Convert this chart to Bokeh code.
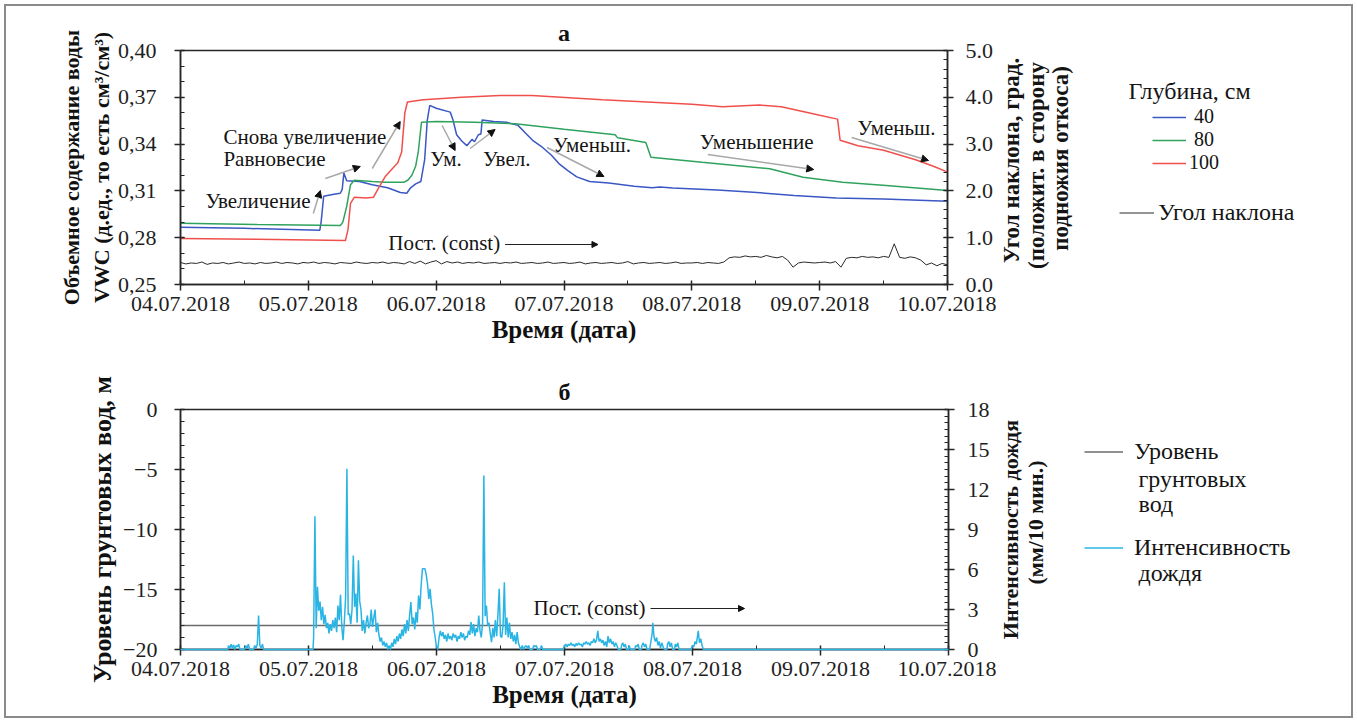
from math import pi
from bokeh.plotting import figure
from bokeh.layouts import column, row
from bokeh.models import (Range1d, LinearAxis, FixedTicker, PrintfTickFormatter, Label,
                          Arrow, NormalHead, Legend, LegendItem)
from bokeh.embed import file_html
from bokeh.resources import INLINE

FONT = "Liberation Serif"

# ---------------- data ----------------
date_labels = ["04.07.2018", "05.07.2018", "06.07.2018", "07.07.2018",
               "08.07.2018", "09.07.2018", "10.07.2018"]
day_ticks = [0, 1, 2, 3, 4, 5, 6]          # days since 04.07.2018 00:00

vwc_ticks = [0.25, 0.28, 0.31, 0.34, 0.37, 0.40]
vwc_labels = ["0,25", "0,28", "0,31", "0,34", "0,37", "0,40"]
angle_ticks = [0, 1, 2, 3, 4, 5]
gw_ticks = [-20, -15, -10, -5, 0]
rain_ticks = [0, 3, 6, 9, 12, 15, 18]

depth_labels = ["\u00a040", "\u00a080", "100"]

# VWC, depth 40 cm
t40 = [0, 0.5, 1.09, 1.10, 1.12, 1.20, 1.25, 1.265, 1.278, 1.30, 1.40, 1.50, 1.62, 1.72, 1.77,
       1.80, 1.84, 1.88, 1.91, 1.93, 1.95, 2.00, 2.11, 2.13, 2.16, 2.20, 2.24, 2.28, 2.30, 2.33,
       2.35, 2.36, 2.45, 2.55, 2.64, 2.70, 2.76, 2.83, 2.90, 2.96, 3.03, 3.10, 3.20, 3.35, 3.55,
       3.69, 3.75, 3.85, 4.20, 4.48, 4.80, 5.13, 5.50, 6.00]
v40 = [0.2867, 0.2860, 0.2848, 0.2900, 0.3065, 0.3078, 0.3085, 0.3110, 0.3214, 0.3165, 0.3160,
       0.3140, 0.3120, 0.3090, 0.3085, 0.3120, 0.3145, 0.3160, 0.3300, 0.3550, 0.3648, 0.3630,
       0.3605, 0.3560, 0.3460, 0.3420, 0.3390, 0.3430, 0.3415, 0.3460, 0.3465, 0.3555, 0.3545,
       0.3540, 0.3520, 0.3470, 0.3420, 0.3380, 0.3330, 0.3275, 0.3230, 0.3190, 0.3160, 0.3150,
       0.3130, 0.3120, 0.3125, 0.3118, 0.3105, 0.3092, 0.3070, 0.3055, 0.3048, 0.3034]

# VWC, depth 80 cm
t80 = [0, 0.6, 1.25, 1.27, 1.30, 1.33, 1.36, 1.50, 1.60, 1.75, 1.78, 1.81, 1.84, 1.86, 1.885,
       2.00, 2.30, 2.62, 3.00, 3.40, 3.42, 3.64, 3.68, 4.08, 4.61, 4.87, 5.18, 5.52, 6.00]
v80 = [0.2893, 0.2885, 0.2878, 0.2900, 0.3000, 0.3140, 0.3168, 0.3160, 0.3155, 0.3156, 0.3170,
       0.3200, 0.3260, 0.3350, 0.3540, 0.3545, 0.3540, 0.3530, 0.3495, 0.3460, 0.3440, 0.3410,
       0.3316, 0.3284, 0.3242, 0.3188, 0.3156, 0.3135, 0.3103]

# VWC, depth 100 cm
t100 = [0, 0.6, 1.29, 1.31, 1.33, 1.36, 1.45, 1.51, 1.55, 1.60, 1.66, 1.70, 1.73, 1.755, 1.775,
        1.90, 2.20, 2.50, 2.75, 3.30, 4.00, 4.24, 4.53, 4.70, 5.00, 5.14, 5.16, 5.30, 5.50, 5.75,
        5.90, 6.00]
v100 = [0.2795, 0.2790, 0.2782, 0.2850, 0.3020, 0.3060, 0.3055, 0.3060, 0.3120, 0.3190, 0.3245,
        0.3280, 0.3350, 0.3600, 0.3670, 0.3685, 0.3700, 0.3712, 0.3712, 0.3684, 0.3655, 0.3640,
        0.3650, 0.3640, 0.3585, 0.3560, 0.3425, 0.3390, 0.3360, 0.3300, 0.3255, 0.3220]

# slope angle, degrees, hourly readings from 04.07.2018 00:00
angle_deg = [
    0.47, 0.44, 0.46, 0.45, 0.48, 0.43, 0.46, 0.45, 0.47, 0.44, 0.46, 0.48, 0.45, 0.46, 0.44, 0.47,
    0.45, 0.46, 0.48, 0.45, 0.47, 0.46, 0.44, 0.47,
    0.46, 0.48, 0.45, 0.47, 0.46, 0.44, 0.47, 0.46, 0.45, 0.48, 0.46, 0.45, 0.47, 0.46, 0.48, 0.45,
    0.47, 0.46, 0.44, 0.49, 0.45, 0.50, 0.44, 0.48,
    0.51, 0.44, 0.49, 0.46, 0.48, 0.45, 0.47, 0.46, 0.48, 0.45, 0.46, 0.47, 0.45, 0.47, 0.46, 0.48,
    0.45, 0.46, 0.47, 0.45, 0.46, 0.48, 0.45, 0.46,
    0.47, 0.45, 0.46, 0.48, 0.44, 0.46, 0.47, 0.45, 0.46, 0.47, 0.45, 0.46, 0.49, 0.44, 0.46, 0.47,
    0.45, 0.46, 0.47, 0.45, 0.46, 0.48, 0.45, 0.46,
    0.46, 0.47, 0.45, 0.47, 0.46, 0.45, 0.48, 0.57, 0.59, 0.58, 0.61, 0.59, 0.60, 0.58, 0.62, 0.59,
    0.57, 0.60, 0.52, 0.37, 0.46, 0.48, 0.47, 0.46,
    0.47, 0.48, 0.46, 0.49, 0.37, 0.56, 0.58, 0.57, 0.60, 0.58, 0.59, 0.57, 0.60, 0.58, 0.87, 0.58,
    0.56, 0.59, 0.57, 0.52, 0.42, 0.46, 0.40, 0.45, 0.42]
angle_t = [i / 24 for i in range(len(angle_deg))]

# groundwater level, m (constant)
gw_t = [0, 6]
gw_level = [-18, -18]

# rain intensity, mm/10 min: sparse quiet periods
rain_quiet_t = [0, 0.37, 0.375, 0.385, 0.395, 0.405, 0.415, 0.425, 0.435, 0.445, 0.455, 0.465,
                0.50, 0.51, 0.52, 0.53, 0.54, 0.57, 0.58, 0.59, 0.60, 0.61, 0.62, 0.63, 0.64, 0.65,
                1.035,
                2.67, 2.68, 2.69, 2.70, 2.71, 2.72, 2.73, 2.75, 2.76, 2.77, 2.78, 2.79, 2.81, 2.82,
                2.83, 2.99,
                3.44, 3.445, 3.455, 3.465, 3.475, 3.485, 3.50, 3.505, 3.515, 3.55, 3.555, 3.565,
                3.575, 3.585, 3.60, 3.605, 3.615, 3.625, 3.635, 3.645, 3.665, 3.675, 3.685, 3.69,
                3.70, 3.71, 3.72, 3.73, 3.74, 3.75, 3.76, 3.77, 3.78, 3.80, 3.805, 3.815, 3.825,
                3.835, 3.845, 3.86, 3.865, 3.875, 3.885, 3.895, 3.99, 4.00, 4.01, 4.02, 4.03, 4.045,
                4.055, 4.065, 4.075, 4.085, 6.0]
rain_quiet_v = [0, 0, 0.3, 0.1, 0.4, 0.1, 0.35, 0, 0.3, 0.2, 0.4, 0,
                0, 0.3, 0.1, 0.4, 0, 0, 0.3, 0.1, 0.4, 2.55, 0.3, 0.1, 0.4, 0,
                0,
                0.3, 0, 0.2, 0.3, 0.1, 0.3, 0, 0, 0.3, 0.2, 0.3, 0, 0, 0.3,
                0, 0,
                0, 0.3, 0.5, 0.2, 0.4, 0, 0, 0.3, 0, 0, 0.3, 0.2,
                0.4, 0, 0, 0.3, 0.5, 0.2, 0.4, 0, 0, 0.6, 1.2, 2.0,
                0.9, 0.6, 0.9, 0.3, 0.6, 0.1, 0.5, 0.2, 0, 0, 0.4, 0.6, 0.2,
                0.5, 0, 0, 0.4, 0.2, 0.5, 0, 0, 0.3, 0.2, 0.6, 0.4, 1.4,
                0.5, 0.8, 0.3, 0, 0]
# rain bursts, readings every 0.01 day
rain_burst1_start = 1.04
rain_burst1 = [0.9, 10.0, 1.6, 4.7, 2.9, 3.6, 2.2, 3.2, 1.9, 2.6, 1.6, 2.0, 1.2, 1.9, 1.4, 2.2,
               1.6, 2.4, 1.3, 3.3, 2.2, 4.1, 1.7, 0.7, 2.1, 3.9, 13.55, 2.6, 2.7, 1.9, 3.0, 7.05,
               3.2, 4.2, 2.0, 6.7, 3.6, 3.0, 1.4, 2.2, 1.2, 2.0, 2.55, 1.6, 1.9, 3.0, 1.7, 2.4,
               3.0, 1.3, 2.0, 1.1, 0.6, 0.9, 0.3, 0.6, 0.2, 0.5, 0, 0.3, 0, 0.5, 0.2, 0.8, 0.4,
               1.0, 0.6, 1.2, 0.8, 1.5, 1.0, 1.9, 1.2, 2.2, 1.4, 2.6, 3.55, 1.9, 2.4, 1.5, 2.8,
               2.0, 4.05, 3.0, 4.8, 6.05, 6.05, 6.05, 5.6, 4.9, 3.8, 4.55, 3.4, 2.7, 1.5, 0.9, 0.2,
               0, 0.9, 1.4, 1.0, 1.3, 0.8, 1.1, 0.6, 1.2, 0.8, 1.0, 0.7, 1.2, 0.9, 1.1, 0.6, 1.0,
               0.8, 1.3, 0.9, 1.2, 0.7, 1.0, 0.9, 1.4, 1.1, 2.05, 1.2, 1.9, 1.0, 1.6, 1.3, 2.55,
               1.4, 0.9, 2.0, 13.05, 2.5, 3.3, 1.8, 2.0, 1.2, 0.55, 1.6, 0.9, 2.2, 1.0, 2.6, 4.55,
               1.0, 0.9, 1.8, 5.05, 1.1, 2.4, 0.9, 2.0, 0.8, 1.3, 0.6, 1.1, 0.4, 1.3, 0.5, 0.2, 0]
rain_burst2_start = 3.00
rain_burst2 = [0.3, 0.4, 0.2, 0.4, 0.3, 0.5, 0.3, 0.4, 0.2, 0.45, 0.3, 0.5, 0.35, 0.4, 0.2, 0.5,
               0.4, 0.6, 0.4, 0.5, 0.3, 0.6, 0.5, 0.8, 0.5, 0.7, 1.4, 0.6, 0.8, 0.5, 0.7, 0.3,
               0.6, 0.2, 1.0, 0.5, 0.8, 0.4, 0.6, 0.2, 0.5, 0.3, 0]

pairs = list(zip(rain_quiet_t, rain_quiet_v))
pairs += [(round(rain_burst1_start + 0.01 * i, 3), v) for i, v in enumerate(rain_burst1)]
pairs += [(round(rain_burst2_start + 0.01 * i, 3), v) for i, v in enumerate(rain_burst2)]
pairs.sort(key=lambda p: p[0])
rain_t = [p[0] for p in pairs]
rain_v = [p[1] for p in pairs]

# ---------------- layout helpers (reference pixel -> data) ----------------
def dx(px):
    return (px - 180) / 768 * 6

def vt(py):
    return 0.40 - (py - 50) / 234 * 0.15

def vb(py):
    return -(py - 409) / 240 * 20

PW = 990          # chart part width
LW = 355          # legend part width
AX = "#262626"
TXT = "#141414"


def style_axis(ax, label_standoff, title_standoff=4, title_size="24px"):
    ax.axis_line_color = AX
    ax.axis_line_width = 1.5
    ax.major_tick_line_color = AX
    ax.major_tick_line_width = 1.5
    ax.minor_tick_line_color = AX
    ax.minor_tick_line_width = 1
    ax.major_tick_in = 4
    ax.major_tick_out = 6
    ax.minor_tick_in = 4
    ax.minor_tick_out = 0
    ax.major_label_text_font = FONT
    ax.major_label_text_font_size = "22px"
    ax.major_label_text_color = "#1e1e1e"
    ax.major_label_standoff = label_standoff
    ax.axis_label_text_font = FONT
    ax.axis_label_text_font_size = title_size
    ax.axis_label_text_font_style = "bold"
    ax.axis_label_text_color = "#111111"
    ax.axis_label_standoff = title_standoff


def base_fig(h, top, bottom, yr, title):
    p = figure(width=PW, height=h, x_range=Range1d(0, 6), y_range=yr,
               output_backend="svg", toolbar_location=None,
               min_border_left=174, min_border_right=48,
               min_border_top=top, min_border_bottom=bottom)
    p.xgrid.visible = False
    p.ygrid.visible = False
    p.outline_line_color = AX
    p.outline_line_width = 1.5
    p.title.text = title
    p.title.align = "center"
    p.title.text_font = FONT
    p.title.text_font_size = "24px"
    p.title.text_font_style = "bold"
    p.title.text_color = "#111111"
    xa = p.xaxis[0]
    xa.ticker = FixedTicker(ticks=day_ticks, minor_ticks=[d + 0.5 for d in day_ticks[:-1]])
    xa.major_label_overrides = dict(zip(day_ticks, date_labels))
    xa.axis_label = "Время (дата)"
    style_axis(xa, 6, 2, "25px")
    return p


def side_fig(h, top, bottom, frame_top_px, frame_bottom_px):
    # blank panel; its frame lines up with the chart frame, data units = page pixels
    s = figure(width=LW, height=h, x_range=Range1d(996, 996 + LW),
               y_range=Range1d(frame_bottom_px, frame_top_px),
               output_backend="svg", toolbar_location=None, title=None,
               x_axis_location=None, y_axis_location=None,
               min_border_left=0, min_border_right=0,
               min_border_top=top, min_border_bottom=bottom)
    s.xgrid.visible = False
    s.ygrid.visible = False
    s.outline_line_color = None
    return s


def text(p, s, x, y, size="21px", bold=False, align="left", angle=0):
    p.add_layout(Label(x=x, y=y, text=s, text_font=FONT, text_font_size=size,
                       text_font_style="bold" if bold else "normal", text_color=TXT,
                       text_align=align, text_baseline="middle", angle=angle))


def arrow(p, x0, y0, x1, y1, color="#a8a8a8", width=1.5, head=7):
    p.add_layout(Arrow(end=NormalHead(size=head, fill_color="#111111", line_color="#111111"),
                       x_start=x0, y_start=y0, x_end=x1, y_end=y1,
                       line_color=color, line_width=width))


def legend(s, items, loc, gw, standoff, size="24px", gh=23):
    s.add_layout(Legend(items=items, location=loc, glyph_width=gw, glyph_height=gh,
                        label_height=gh, label_standoff=standoff, spacing=0, padding=0,
                        margin=0, border_line_alpha=0, background_fill_alpha=0,
                        inactive_fill_alpha=0,
                        label_text_font=FONT, label_text_font_size=size,
                        label_text_color=TXT))


C40, C80, C100, CANG = "#3a57c4", "#2fa35e", "#f0504c", "#2a2a2a"
CGW, CRAIN = "#6b6b6b", "#2ab4e4"

# ---------------- panel a ----------------
p1 = base_fig(357, 44, 79, Range1d(0.25, 0.40), "а")
ya = p1.yaxis[0]
ya.ticker = FixedTicker(ticks=vwc_ticks, minor_ticks=[round(0.25 + 0.01 * i, 2) for i in range(16)])
ya.major_label_overrides = dict(zip(vwc_ticks, vwc_labels))
ya.axis_label = "Объемное содержание воды\nVWC (д.ед., то есть см³/см³)"
style_axis(ya, 18, 1, "22px")

p1.extra_y_ranges = {"angle": Range1d(0, 5)}
ra = LinearAxis(y_range_name="angle",
                ticker=FixedTicker(ticks=angle_ticks, minor_ticks=[round(0.2 * i, 1) for i in range(26)]),
                formatter=PrintfTickFormatter(format="%.1f"))
style_axis(ra, 12)
p1.add_layout(ra, "right")

p1.line(t40, v40, line_color=C40, line_width=1.5)
p1.line(t80, v80, line_color=C80, line_width=1.5)
p1.line(t100, v100, line_color=C100, line_width=1.5)
p1.line(angle_t, angle_deg, y_range_name="angle", line_color=CANG, line_width=1)

# annotations
text(p1, "Увеличение", dx(205), vt(200))
text(p1, "Равновесие", dx(223), vt(158))
text(p1, "Снова увеличение", dx(223), vt(136))
text(p1, "Ум.", dx(430), vt(158))
text(p1, "Увел.", dx(483), vt(158))
text(p1, "Уменьш.", dx(553), vt(144))
text(p1, "Уменьшение", dx(700), vt(141))
text(p1, "Уменьш.", dx(858), vt(127))
text(p1, "Пост. (const)", dx(388), vt(242))

arrow(p1, dx(313), vt(213), dx(320), vt(190))
arrow(p1, dx(325), vt(178), dx(360), vt(166))
arrow(p1, dx(372), vt(168), dx(400), vt(121))
arrow(p1, dx(442), vt(125), dx(455), vt(150))
arrow(p1, dx(470), vt(148), dx(495), vt(129))
arrow(p1, dx(547), vt(147), dx(604), vt(176))
arrow(p1, dx(708), vt(154), dx(814), vt(169))
arrow(p1, dx(852), vt(137), dx(929), vt(160))
arrow(p1, dx(505), vt(244), dx(598), vt(244), color="#222222", width=1, head=6)

# side panel a: right-axis title + legends (frame spans page y 50..284)
s1 = side_fig(357, 44, 79, 50, 284)
text(s1, "Угол наклона, град.", 1011, 160, "23px", True, "center", pi / 2)
text(s1, "(положит. в сторону", 1036, 165, "23px", True, "center", pi / 2)
text(s1, "подножия откоса)", 1060, 158, "23px", True, "center", pi / 2)
text(s1, "Глубина, см", 1128, 90, "24px")
k40 = s1.line(t40, v40, line_color=C40, line_width=1.5, visible=False)
k80 = s1.line(t80, v80, line_color=C80, line_width=1.5, visible=False)
k100 = s1.line(t100, v100, line_color=C100, line_width=1.5, visible=False)
kang = s1.line(angle_t, angle_deg, line_color=CANG, line_width=1, visible=False)
legend(s1, [LegendItem(label=depth_labels[0], renderers=[k40])], (156, 156), 34, 3, "20px", 20)
legend(s1, [LegendItem(label=depth_labels[1], renderers=[k80])], (156, 133), 34, 3, "20px", 20)
legend(s1, [LegendItem(label=depth_labels[2], renderers=[k100])], (156, 110), 34, 3, "20px", 20)
legend(s1, [LegendItem(label="Угол наклона", renderers=[kang])], (123, 58), 35, 4)

# ---------------- panel б ----------------
p2 = base_fig(353, 46, 67, Range1d(-20, 0), "б")
yb = p2.yaxis[0]
yb.ticker = FixedTicker(ticks=gw_ticks, minor_ticks=list(range(-20, 1)))
yb.axis_label = "Уровень грунтовых вод, м"
style_axis(yb, 17, 3, "26px")

p2.extra_y_ranges = {"rain": Range1d(0, 18)}
rb = LinearAxis(y_range_name="rain",
                ticker=FixedTicker(ticks=rain_ticks, minor_ticks=[0.5 * i for i in range(37)]))
style_axis(rb, 13)
p2.add_layout(rb, "right")

p2.line(gw_t, gw_level, line_color=CGW, line_width=1.5)
p2.line(rain_t, rain_v, y_range_name="rain", line_color=CRAIN, line_width=1.5, level="overlay")

text(p2, "Пост. (const)", dx(533), vb(607))
arrow(p2, dx(650), vb(608), dx(744), vb(608), color="#222222", width=1, head=6)

# side panel б (frame spans page y 409..649)
s2 = side_fig(353, 46, 67, 409, 649)
text(s2, "Интенсивность дождя", 1010, 529, "22px", True, "center", pi / 2)
text(s2, "(мм/10 мин.)", 1035, 522, "22px", True, "center", pi / 2)
kgw = s2.line(gw_t, gw_level, line_color=CGW, line_width=1.5, visible=False)
krain = s2.line(rain_t, rain_v, line_color=CRAIN, line_width=1.5, visible=False)
legend(s2, [LegendItem(label="Уровень", renderers=[kgw])], (88, 184), 39, 11)
legend(s2, [LegendItem(label="Интенсивность", renderers=[krain])], (88, 88), 39, 11)
text(s2, "грунтовых", 1138, 478, "24px")
text(s2, "вод", 1138, 503, "24px")
text(s2, "дождя", 1138, 572, "24px")

layout = column(row(p1, s1), row(p2, s2),
                styles={"border": "2px solid #8a8a8a", "margin": "4px 0 0 4px"})
open("out.html", "w").write(file_html(layout, INLINE))
